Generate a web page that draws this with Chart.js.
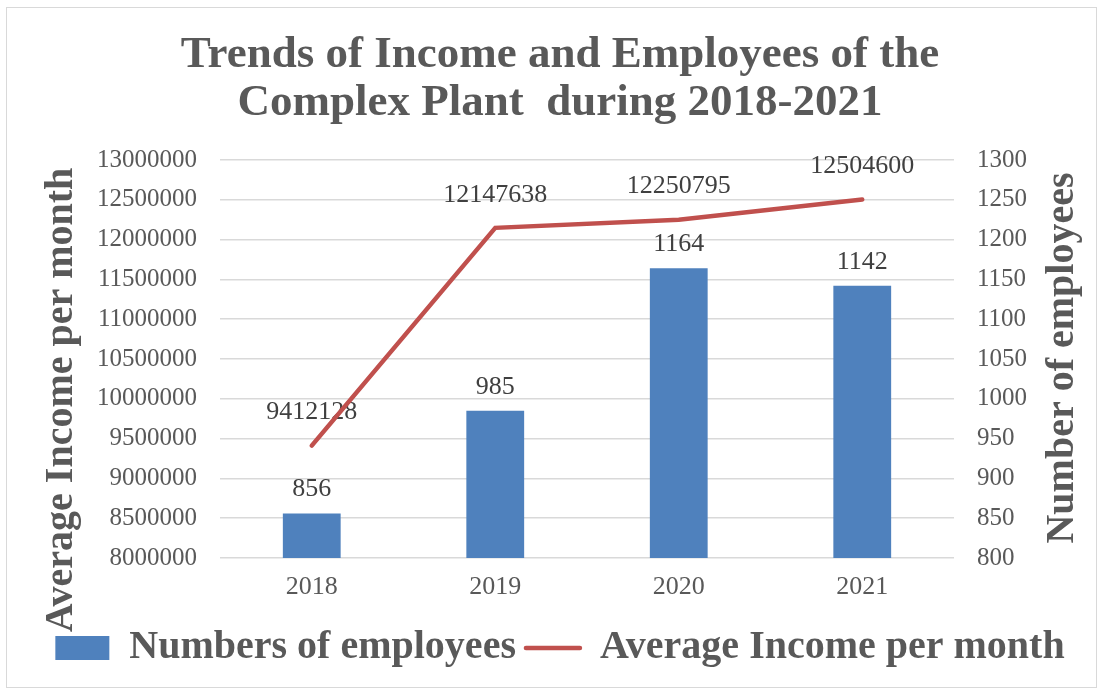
<!DOCTYPE html>
<html>
<head>
<meta charset="utf-8">
<title>Trends of Income and Employees</title>
<script src="https://cdn.jsdelivr.net/npm/chart.js@4.4.1/dist/chart.umd.min.js"></script>
<style>
  html, body { margin: 0; padding: 0; background: #fff; }
</style>
</head>
<body>
<canvas id="chart" width="1102" height="690"></canvas>
<script>
// data
const years = ["2018", "2019", "2020", "2021"];
const employees = [856, 985, 1164, 1142];
const avgIncome = [9412128, 12147638, 12250795, 12504600];
const incomeAxis = [8000000, 13000000, 500000]; // min, max, step
const employeeAxis = [800, 1300, 50];            // min, max, step

const FONT = '"Liberation Serif", "Times New Roman", serif';
const GREY = "#595959";

// light frame round the whole chart, like the office export
const frame = {
  id: "frame",
  beforeDraw(chart) {
    const ctx = chart.ctx;
    ctx.save();
    ctx.fillStyle = "#fff";
    ctx.fillRect(0, 0, chart.width, chart.height);
    ctx.strokeStyle = "#d9d9d9";
    ctx.lineWidth = 1;
    ctx.strokeRect(6.5, 7.5, 1090, 680);
    ctx.restore();
  }
};

// value labels above bars and line points
const valueLabels = {
  id: "valueLabels",
  beforeDatasetsDraw(chart) {
    const ctx = chart.ctx;
    ctx.save();
    ctx.font = "26px " + FONT;
    ctx.fillStyle = "#404040";
    ctx.textAlign = "center";
    ctx.textBaseline = "middle";
    chart.data.datasets.forEach((ds, i) => {
      const lift = ds.type === "line" ? 33 : 24;
      chart.getDatasetMeta(i).data.forEach((el, j) => {
        ctx.fillText(String(ds.data[j]), el.x, el.y - lift);
      });
    });
    ctx.restore();
  }
};

// both axis titles read bottom-to-top in the reference
function sideTitle(ctx, text, x, y) {
  ctx.save();
  ctx.translate(x, y);
  ctx.rotate(-Math.PI / 2);
  ctx.font = "bold 40px " + FONT;
  ctx.fillStyle = GREY;
  ctx.textAlign = "center";
  ctx.textBaseline = "middle";
  ctx.fillText(text, 0, 0);
  ctx.restore();
}

const axisTitles = {
  id: "axisTitles",
  afterDraw(chart) {
    sideTitle(chart.ctx, "Average Income per month", 62, 400);
    sideTitle(chart.ctx, "Number of employees", 1063, 358);
  }
};

new Chart(document.getElementById("chart"), {
  data: {
    labels: years,
    datasets: [
      {
        type: "bar",
        label: "Numbers of employees",
        data: employees,
        yAxisID: "yEmp",
        backgroundColor: "#4F81BD",
        borderWidth: 0,
        barPercentage: 0.315,
        categoryPercentage: 1,
        pointStyle: "rect"
      },
      {
        type: "line",
        label: "Average Income per month",
        data: avgIncome,
        yAxisID: "yInc",
        borderColor: "#C0504D",
        backgroundColor: "#C0504D",
        borderWidth: 4.5,
        borderCapStyle: "round",
        pointRadius: 0,
        tension: 0,
        pointStyle: "line"
      }
    ]
  },
  options: {
    responsive: false,
    animation: false,
    layout: { padding: { left: 18, right: 0, top: 0, bottom: 12 } },
    plugins: {
      title: {
        display: true,
        text: ["Trends of Income and Employees of the", "Complex Plant  during 2018-2021"],
        color: GREY,
        font: { family: FONT, size: 45, weight: "bold", lineHeight: 48 / 45 },
        padding: { top: 31, bottom: 33 }
      },
      legend: {
        position: "bottom",
        labels: {
          usePointStyle: true,
          pointStyleWidth: 54,
          boxHeight: 24,
          padding: 10,
          color: GREY,
          font: { family: FONT, size: 40, weight: "bold" },
          generateLabels(chart) {
            const items = Chart.defaults.plugins.legend.labels.generateLabels(chart);
            items.forEach((it) => {
              if (it.pointStyle === "line") {
                it.lineWidth = 4.5;
                it.lineCap = "round";
                it.strokeStyle = "#C0504D";
              }
            });
            return items;
          }
        }
      },
      tooltip: { enabled: false }
    },
    scales: {
      x: {
        grid: { display: false, drawTicks: false },
        border: { display: false },
        ticks: { padding: 14, color: GREY, font: { family: FONT, size: 26 } },
        afterFit(scale) { scale.height = 60; }
      },
      yInc: {
        position: "left",
        min: incomeAxis[0],
        max: incomeAxis[1],
        ticks: {
          stepSize: incomeAxis[2],
          padding: 23,
          color: GREY,
          font: { family: FONT, size: 25 },
          callback: (v) => String(v)
        },
        grid: { color: "#d9d9d9", lineWidth: 1.5, drawTicks: false },
        border: { display: false },
        afterFit(scale) { scale.width = 202; }
      },
      yEmp: {
        position: "right",
        min: employeeAxis[0],
        max: employeeAxis[1],
        ticks: {
          stepSize: employeeAxis[2],
          padding: 23,
          color: GREY,
          font: { family: FONT, size: 25 },
          callback: (v) => String(v)
        },
        grid: { display: false, drawTicks: false },
        border: { display: false },
        afterFit(scale) { scale.width = 148; }
      }
    }
  },
  plugins: [frame, valueLabels, axisTitles]
});
</script>
</body>
</html>
